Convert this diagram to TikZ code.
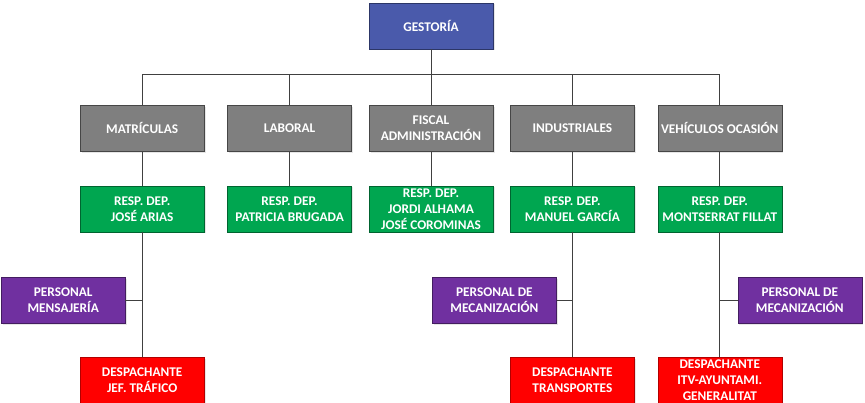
\documentclass[tikz,border=0pt]{standalone}
\usepackage{fontspec}
\setmainfont{Carlito}
\usepackage{tikz}
\usetikzlibrary{%
  positioning,% wg. " of "
  shadows%
}
\definecolor{gestblue}{HTML}{4A5AAB}
\definecolor{deptgray}{HTML}{7F7F7F}
\definecolor{respgreen}{HTML}{00A650}
\definecolor{perspurple}{HTML}{7030A0}
\definecolor{despred}{HTML}{FF0000}
\definecolor{linegray}{HTML}{404040}

\begin{document}
\begin{tikzpicture}
       \tikzset{box/.style ={rectangle, minimum width=124pt, minimum height=46pt, inner sep=1pt,
                align=center, text=white, font=\bfseries\fontsize{13.3}{16}\selectfont,
                drop shadow={opacity=0.2, shadow xshift=1.5pt, shadow yshift=-1.5pt}}}

       \tikzset{jefe/.style={box, fill=gestblue, draw=gestblue!60!black}}
       \tikzset{depto/.style={box, fill=deptgray, draw=deptgray!55!black}}
       \tikzset{resp/.style={box, fill=respgreen, draw=respgreen!60!black}}
       \tikzset{personal/.style={box, fill=perspurple, draw=perspurple!60!black}}
       \tikzset{despachante/.style={box, fill=despred, draw=despred!70!black}}
       \tikzset{link/.style={draw=linegray, line width=0.8pt}}

        \useasboundingbox (0,0) rectangle (865pt,403pt);

        \node[jefe] (gestoria) at (431pt,377pt) {GESTORÍA};

        \node[depto, below = 56pt of gestoria] (fiscal) {FISCAL\\ADMINISTRACIÓN};
        \node[depto, left = 17pt of fiscal] (laboral) {LABORAL};
        \node[depto, left = 23pt of laboral] (matriculas) {MATRÍCULAS};
        \node[depto, right = 17pt of fiscal] (industriales) {INDUSTRIALES};
        \node[depto, right = 23pt of industriales] (vehiculos) {VEHÍCULOS OCASIÓN};

        \node[resp, below = 34pt of matriculas] (resp1) {RESP. DEP.\\JOSÉ ARIAS};
        \node[resp, below = 34pt of laboral] (resp2) {RESP. DEP.\\PATRICIA BRUGADA};
        \node[resp, below = 34pt of fiscal] (resp3) {RESP. DEP.\\JORDI ALHAMA\\JOSÉ COROMINAS};
        \node[resp, below = 34pt of industriales] (resp4) {RESP. DEP.\\MANUEL GARCÍA};
        \node[resp, below = 34pt of vehiculos] (resp5) {RESP. DEP.\\MONTSERRAT FILLAT};

        \node[personal, below = 45pt of resp1, xshift=-79pt] (pers1) {PERSONAL\\MENSAJERÍA};
        \node[personal, below = 45pt of resp4, xshift=-78pt] (pers4) {PERSONAL DE\\MECANIZACIÓN};
        \node[personal, below = 45pt of resp5, xshift=80pt] (pers5) {PERSONAL DE\\MECANIZACIÓN};

        \node[despachante, below = 125pt of resp1] (desp1) {DESPACHANTE\\JEF. TRÁFICO};
        \node[despachante, below = 125pt of resp4] (desp4) {DESPACHANTE\\TRANSPORTES};
        \node[despachante, below = 125pt of resp5] (desp5) {DESPACHANTE\\ITV-AYUNTAMI.\\GENERALITAT};

        % bus
        \coordinate[below = 25pt of gestoria.south] (bus);
        \draw[link] (gestoria.south) -- (bus);
        \draw[link] (bus) -| (matriculas.north);
        \draw[link] (bus) -| (laboral.north);
        \draw[link] (bus) -- (fiscal.north);
        \draw[link] (bus) -| (industriales.north);
        \draw[link] (bus) -| (vehiculos.north);

        \draw[link] (matriculas) -- (resp1);
        \draw[link] (laboral) -- (resp2);
        \draw[link] (fiscal) -- (resp3);
        \draw[link] (industriales) -- (resp4);
        \draw[link] (vehiculos) -- (resp5);

        \draw[link] (resp1) -- (desp1);
        \draw[link] (resp4) -- (desp4);
        \draw[link] (resp5) -- (desp5);

        \draw[link] (pers1.east) -- (pers1.east -| resp1.south);
        \draw[link] (pers4.east) -- (pers4.east -| resp4.south);
        \draw[link] (pers5.west) -- (pers5.west -| resp5.south);
   \end{tikzpicture}
\end{document}
